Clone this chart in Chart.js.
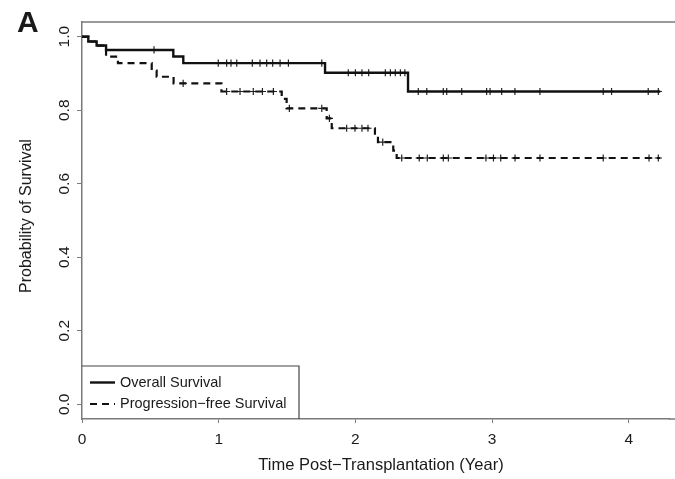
<!DOCTYPE html>
<html>
<head>
<meta charset="utf-8">
<script src="https://cdn.jsdelivr.net/npm/chart.js@4/dist/chart.umd.min.js"></script>
<style>
    html, body {margin: 0; padding: 0; background: #fff;}
    #wrap {width: 675px; height: 479px; position: relative;}
</style>
</head>
<body>
<div id="wrap"><canvas id="km"></canvas></div>
<script>
// Kaplan-Meier steps: time (years) of each drop and survival after it
const osTimes = [0, 0.046, 0.107, 0.176, 0.668, 0.741, 1.778, 2.385, 4.23];
const osSurv = [1.0, 0.987, 0.976, 0.964, 0.946, 0.928, 0.902, 0.851, 0.851];
const osCensored = [0.527, 0.997, 1.058, 1.09, 1.132, 1.246, 1.302, 1.351, 1.395, 1.449, 1.51, 1.754,
    1.948, 2.0, 2.048, 2.097, 2.219, 2.256, 2.292, 2.329, 2.362,
    2.46, 2.522, 2.643, 2.668, 2.778, 2.96, 2.985, 3.07, 3.167, 3.35, 3.813, 3.874, 4.142, 4.216];

const pfsTimes = [0, 0.046, 0.107, 0.176, 0.263, 0.51, 0.546, 0.67, 1.02, 1.461, 1.497, 1.79, 1.827,
    2.143, 2.165, 2.277, 2.302, 4.23];
const pfsSurv = [1.0, 0.987, 0.976, 0.946, 0.928, 0.908, 0.891, 0.873, 0.851, 0.831, 0.805, 0.778, 0.751,
    0.732, 0.713, 0.69, 0.67, 0.67];
const pfsCensored = [0.74, 1.058, 1.156, 1.253, 1.32, 1.4, 1.517, 1.754, 1.81, 1.936, 1.997, 2.048, 2.092,
    2.2, 2.339, 2.467, 2.526, 2.643, 2.68, 2.955, 3.01, 3.063, 3.168, 3.35, 3.813, 4.148, 4.216];

const seriesNames = ["Overall Survival", "Progression\u2212free Survival"];
const xTicks = [0, 1, 2, 3, 4];
const yTicks = [0, 0.2, 0.4, 0.6, 0.8, 1.0];
const yTickLabels = ["0.0", "0.2", "0.4", "0.6", "0.8", "1.0"];

const FONT = "'Liberation Sans', Arial, Helvetica, sans-serif";
const INK = "#1a1a1a";
const FRAME = "#7a7a7a";

function toPoints(times, surv) {
    return times.map((t, i) => ({x: t, y: surv[i]}));
}

function levelAt(times, surv, t) {
    let level = surv[0];
    times.forEach((time, i) => {
        if (time <= t) {
            level = surv[i];
        }
    });
    return level;
}

function censorPoints(censored, times, surv) {
    return censored.map(t => ({x: t, y: levelAt(times, surv, t)}));
}

const decorPlugin = {
    id: "decor",
    afterDraw(chart) {
        const ctx = chart.ctx;
        const area = chart.chartArea;
        const yScale = chart.scales.y;
        const datasets = chart.data.datasets;

        ctx.save();

        // top and bottom frame lines run off the right edge like the original crop
        ctx.strokeStyle = FRAME;
        ctx.lineWidth = 1.5;
        ctx.beginPath();
        ctx.moveTo(area.left, area.top);
        ctx.lineTo(chart.width, area.top);
        ctx.moveTo(area.right - 1, area.bottom);
        ctx.lineTo(chart.width, area.bottom);
        ctx.stroke();

        // rotated y tick labels, R style
        ctx.fillStyle = INK;
        ctx.font = "15.5px " + FONT;
        ctx.textAlign = "center";
        ctx.textBaseline = "middle";
        yTicks.forEach((v, i) => {
            ctx.save();
            ctx.translate(65, yScale.getPixelForValue(v));
            ctx.rotate(-Math.PI / 2);
            ctx.fillText(yTickLabels[i], 0, 0);
            ctx.restore();
        });

        // axis titles
        ctx.save();
        ctx.font = "16px " + FONT;
        ctx.translate(27, 216);
        ctx.rotate(-Math.PI / 2);
        ctx.fillText("Probability of Survival", 0, 0);
        ctx.restore();

        ctx.font = "16.5px " + FONT;
        ctx.fillText("Time Post\u2212Transplantation (Year)", 381, 465);

        // panel letter
        ctx.font = "bold 30px " + FONT;
        ctx.textAlign = "left";
        ctx.textBaseline = "alphabetic";
        ctx.fillText("A", 17, 32);

        // legend box in the lower left corner
        const boxRight = 299;
        const boxTop = 366;
        ctx.fillStyle = "#fff";
        ctx.fillRect(area.left + 1, boxTop, boxRight - area.left - 1, area.bottom - boxTop - 1);
        ctx.strokeStyle = "#444";
        ctx.lineWidth = 1.2;
        ctx.beginPath();
        ctx.moveTo(area.left, boxTop);
        ctx.lineTo(boxRight, boxTop);
        ctx.lineTo(boxRight, area.bottom);
        ctx.stroke();

        const rows = [382.5, 404];
        ctx.font = "14.5px " + FONT;
        ctx.textBaseline = "middle";
        rows.forEach((y, i) => {
            const ds = datasets[i];
            ctx.strokeStyle = ds.borderColor;
            ctx.lineWidth = ds.borderWidth;
            ctx.setLineDash(ds.borderDash || []);
            ctx.beginPath();
            ctx.moveTo(90, y);
            ctx.lineTo(115, y);
            ctx.stroke();
            ctx.setLineDash([]);
            ctx.fillStyle = INK;
            ctx.fillText(seriesNames[i], 120, y);
        });

        ctx.restore();
    }
};

new Chart(document.getElementById("km"), {
    type: "scatter",
    data: {
        datasets: [
            {
                label: seriesNames[0],
                data: toPoints(osTimes, osSurv),
                showLine: true,
                stepped: true,
                borderColor: "#111",
                borderWidth: 2.4,
                pointRadius: 0,
            },
            {
                label: seriesNames[1],
                data: toPoints(pfsTimes, pfsSurv),
                showLine: true,
                stepped: true,
                borderColor: "#111",
                borderWidth: 2.2,
                borderDash: [7, 5],
                pointRadius: 0,
            },
            {
                label: "os-censored",
                data: censorPoints(osCensored, osTimes, osSurv),
                pointStyle: "cross",
                pointRadius: 3.6,
                borderColor: "#222",
                borderWidth: 1.2,
            },
            {
                label: "pfs-censored",
                data: censorPoints(pfsCensored, pfsTimes, pfsSurv),
                pointStyle: "cross",
                pointRadius: 3.6,
                borderColor: "#222",
                borderWidth: 1.2,
            },
        ]
    },
    options: {
        responsive: true,
        maintainAspectRatio: false,
        animation: false,
        layout: {
            padding: {top: 22, right: 0, left: 0, bottom: 0}
        },
        plugins: {
            legend: {display: false},
            tooltip: {enabled: false},
        },
        scales: {
            x: {
                type: "linear",
                min: 0,
                max: 4.30,
                afterBuildTicks: scale => {
                    scale.ticks = xTicks.map(v => ({value: v}));
                },
                afterFit: scale => {
                    scale.height = 60;
                },
                grid: {drawOnChartArea: false, tickLength: 4, color: FRAME},
                border: {color: FRAME, width: 1.5},
                ticks: {
                    color: INK,
                    font: {family: FONT, size: 15.5},
                    padding: 7,
                    maxRotation: 0,
                    callback: v => String(v),
                },
            },
            y: {
                min: -0.04,
                max: 1.04,
                afterBuildTicks: scale => {
                    scale.ticks = yTicks.map(v => ({value: v}));
                },
                afterFit: scale => {
                    scale.width = 82;
                },
                grid: {drawOnChartArea: false, tickLength: 5, color: FRAME},
                border: {color: FRAME, width: 1.5},
                ticks: {display: false},
            },
        }
    },
    plugins: [decorPlugin]
});
</script>
</body>
</html>
